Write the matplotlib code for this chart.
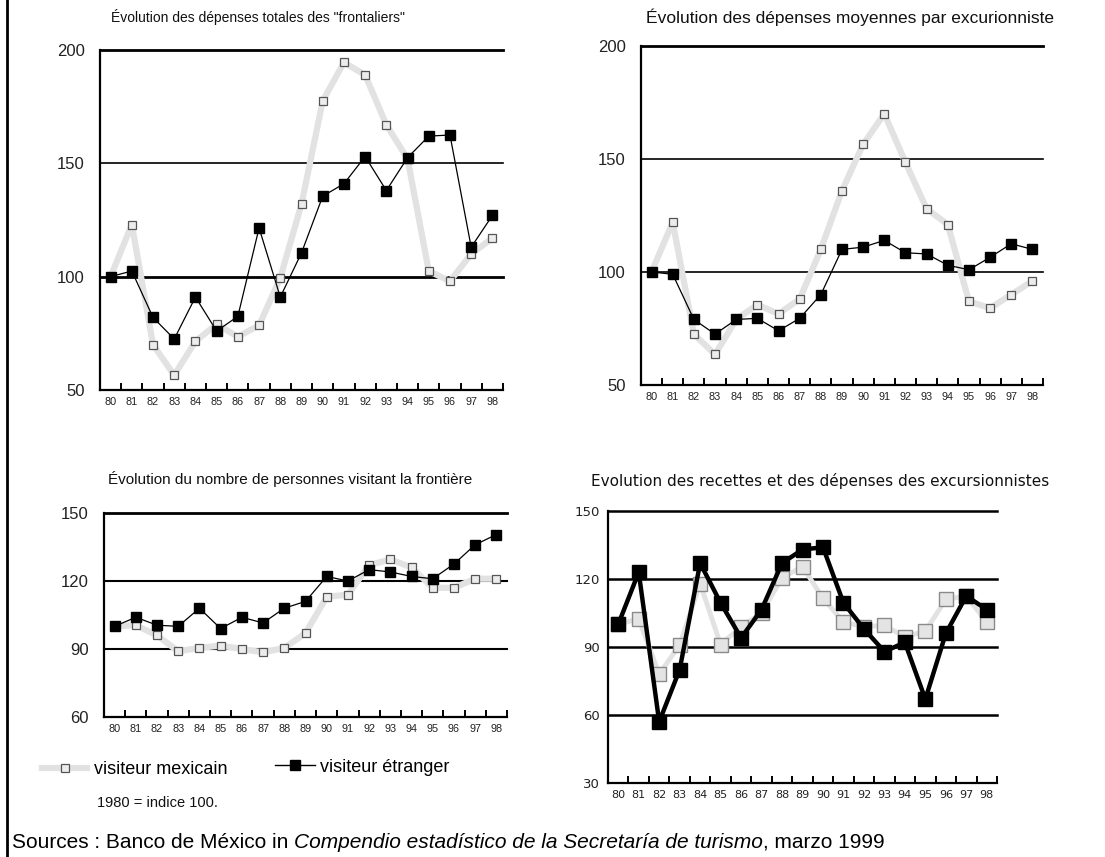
import numpy as np
import matplotlib
matplotlib.use("Agg")
import matplotlib.pyplot as plt
from matplotlib.lines import Line2D
from matplotlib.transforms import offset_copy

plt.rcParams['font.family'] = ['Liberation Sans', 'DejaVu Sans']

annees = ['80', '81', '82', '83', '84', '85', '86', '87', '88', '89',
          '90', '91', '92', '93', '94', '95', '96', '97', '98']

# dépenses totales des "frontaliers"
tot_mex = [100, 123, 70, 56.5, 71.5, 79, 73.5, 78.5, 99.5, 132, 177.5, 194.5, 189, 167, 152, 102.5, 98, 110, 117]
tot_etr = [100, 102.5, 82, 72.5, 91, 76, 82.5, 121.5, 91, 110.5, 135.5, 141, 153, 138, 152.5, 162, 162.5, 113, 127]

# dépenses moyennes par excursionniste
moy_mex = [100, 122, 72.5, 63.5, 79, 85.5, 81.5, 88, 110, 136, 156.5, 170, 148.5, 128, 121, 87, 84, 90, 96]
moy_etr = [100, 99, 79, 72.5, 79, 79.5, 74, 79.5, 90, 110, 111, 114, 108.5, 108, 103, 101, 106.5, 112.5, 110]

# nombre de personnes visitant la frontière
nb_mex = [100, 100.5, 96, 89, 90.5, 91.5, 90, 88.5, 90.5, 97, 113, 114, 127, 129.5, 126, 117, 117, 121, 121]
nb_etr = [100, 104, 100.5, 100, 108, 99, 104, 101.5, 108, 111, 122, 120, 125, 124, 122, 121, 127.5, 136, 140.5]

# recettes et dépenses des excursionnistes
rec_mex = [100, 102.5, 78, 91, 118, 91, 99, 105, 120.5, 125.5, 111.5, 101, 99, 99.5, 94.5, 97, 111, 112.5, 101]
rec_etr = [100, 123, 57, 80, 127, 109.5, 94, 106.5, 127, 133, 134, 109.5, 98, 88, 92, 67, 96, 112.5, 106.5]

GRIS_LIGNE = '#e2e2e2'

fig = plt.figure(figsize=(11.05, 8.57), dpi=100)
W, H = 1105.0, 857.0


def cadre(l, t, r, b):
    return [l / W, 1 - b / H, (r - l) / W, (b - t) / H]


def panneau(rect, titre, mex, etr, yticks, ylim, titre_xy, lw_grilles,
            gros=False, police=None, taille_y=12, taille_titre=10):
    ax = fig.add_axes(rect)
    x = np.arange(len(annees))
    if gros:
        ax.plot(x, mex, color=GRIS_LIGNE, lw=3.5, marker='s', ms=10,
                mfc='#e4e4e4', mec='#8a8a8a', mew=1, zorder=3, clip_on=False)
        ax.plot(x, etr, color='black', lw=3.2, marker='s', ms=9.5,
                mfc='black', mec='black', zorder=4, clip_on=False)
    else:
        ax.plot(x, mex, color=GRIS_LIGNE, lw=4.5, marker='s', ms=6,
                mfc='#ececec', mec='#555555', mew=0.9, zorder=3,
                solid_joinstyle='round', clip_on=False)
        ax.plot(x, etr, color='black', lw=0.9, marker='s', ms=6.5,
                mfc='black', mec='black', zorder=4, clip_on=False)
    ax.set_xlim(-0.5, len(annees) - 0.5)
    ax.set_ylim(*ylim)
    for yv, lw in zip(yticks[1:], lw_grilles):
        ax.axhline(yv, color='black', lw=lw, zorder=1, clip_on=False)
    for s in ['top', 'right']:
        ax.spines[s].set_visible(False)
    ax.spines['left'].set_linewidth(1.6)
    ax.spines['bottom'].set_linewidth(1.6)
    ax.set_yticks(yticks)
    ax.set_xticks(np.arange(len(annees)) + 0.5)
    ax.set_xticklabels([])
    ax.set_xticks(x, minor=True)
    ax.set_xticklabels(annees, minor=True)
    ax.tick_params(axis='x', which='major', direction='in', length=5, width=1.4)
    ax.tick_params(axis='x', which='minor', length=0, pad=5,
                   labelsize=7.8 if not gros else 8, colors='#222222')
    ax.tick_params(axis='y', length=0, labelsize=taille_y,
                   pad=11 if not gros else 6, colors='#222222')
    if police:
        for lab in ax.get_xticklabels(minor=True) + ax.get_yticklabels():
            lab.set_family(police)
    ax.patch.set_visible(False)
    fig.text(titre_xy[0] / W, 1 - titre_xy[1] / H, titre, fontsize=taille_titre,
             ha='left', va='center', color='#111111',
             family=[police] if police else None)
    return ax


panneau(cadre(100, 50, 503, 390), 'Évolution des dépenses totales des "frontaliers"',
        tot_mex, tot_etr, [50, 100, 150, 200], (50, 200), (111, 17),
        [2.0, 1.2, 2.0], taille_titre=10)
panneau(cadre(641, 46, 1043, 385), 'Évolution des dépenses moyennes par excurionniste',
        moy_mex, moy_etr, [50, 100, 150, 200], (50, 200), (646, 17),
        [1.2, 1.2, 2.0], taille_titre=12.5)
panneau(cadre(104, 513, 507, 717), 'Évolution du nombre de personnes visitant la frontière',
        nb_mex, nb_etr, [60, 90, 120, 150], (60, 150), (108, 479),
        [1.5, 1.5, 2.0], taille_titre=11)
panneau(cadre(608, 511, 997, 783), 'Evolution des recettes et des dépenses des excursionnistes',
        rec_mex, rec_etr, [30, 60, 90, 120, 150], (30, 150), (591, 481),
        [1.8, 1.8, 1.8, 1.8], gros=True, police='DejaVu Sans', taille_y=9.5,
        taille_titre=11)

# légende commune
h_mex = Line2D([], [], color=GRIS_LIGNE, lw=4.5, marker='s', ms=6,
               mfc='#ececec', mec='#555555', mew=0.9)
h_etr = Line2D([], [], color='black', lw=1, marker='s', ms=6.5, mfc='black')
fig.legend([h_mex], ['visiteur mexicain'], loc='center left',
           bbox_to_anchor=(42 / W, 1 - 770 / H), frameon=False, fontsize=13,
           handlelength=2.5, handletextpad=0.4, borderpad=0, borderaxespad=0)
fig.legend([h_etr], ['visiteur étranger'], loc='center left',
           bbox_to_anchor=(275 / W, 1 - 767 / H), frameon=False, fontsize=13,
           handlelength=2.2, handletextpad=0.3, borderpad=0, borderaxespad=0)

fig.text(97 / W, 1 - 803 / H, '1980 = indice 100.', fontsize=10.5, va='center',
         color='#111111')

# ligne des sources, morceaux droits et italiques enchaînés
morceaux = [('Sources : Banco de México in ', 'normal'),
            ('Compendio estadístico de la Secretaría de turismo', 'italic'),
            (', marzo 1999', 'normal')]
trans = fig.transFigure
x0, y0 = 12 / W, 1 - 842 / H
fig.canvas.draw()
rend = fig.canvas.get_renderer()
for texte, style in morceaux:
    t = fig.text(x0, y0, texte, fontsize=15, style=style, va='center',
                 color='black', transform=trans)
    bb = t.get_window_extent(renderer=rend)
    trans = offset_copy(t.get_transform(), fig=fig, x=bb.width, units='dots')

fig.add_artist(Line2D([6.5 / W, 6.5 / W], [0, 1], color='black', lw=2))

fig.savefig('out.png', dpi=100)
